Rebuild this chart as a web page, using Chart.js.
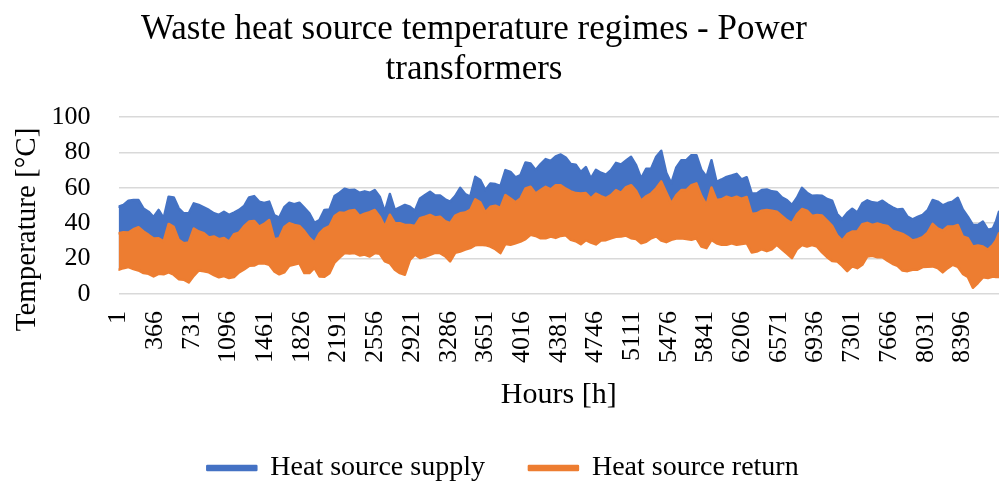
<!DOCTYPE html>
<html>
<head>
<meta charset="utf-8">
<script src="https://cdn.jsdelivr.net/npm/chart.js@4/dist/chart.umd.min.js"></script>
<style>
  html, body { margin: 0; padding: 0; background: #fff; }
  #wrap { width: 1006px; height: 488px; }
</style>
</head>
<body>
<div id="wrap"><canvas id="myChart"></canvas></div>
<script>
// hour of year for each reading
const hours = [
  1, 50, 100, 150, 200, 250, 300, 350, 400, 450,
  500, 550, 600, 650, 700, 750, 800, 850, 900, 950,
  1000, 1050, 1100, 1150, 1200, 1250, 1300, 1350, 1400, 1450,
  1500, 1550, 1600, 1650, 1700, 1750, 1800, 1850, 1900, 1950,
  2000, 2050, 2100, 2150, 2200, 2250, 2300, 2350, 2400, 2450,
  2500, 2550, 2600, 2650, 2700, 2750, 2800, 2850, 2900, 2950,
  3000, 3050, 3100, 3150, 3200, 3250, 3300, 3350, 3400, 3450,
  3500, 3550, 3600, 3650, 3700, 3750, 3800, 3850, 3900, 3950,
  4000, 4050, 4100, 4150, 4200, 4250, 4300, 4350, 4400, 4450,
  4500, 4550, 4600, 4650, 4700, 4750, 4800, 4850, 4900, 4950,
  5000, 5050, 5100, 5150, 5200, 5250, 5300, 5350, 5400, 5450,
  5500, 5550, 5600, 5650, 5700, 5750, 5800, 5850, 5900, 5950,
  6000, 6050, 6100, 6150, 6200, 6250, 6300, 6350, 6400, 6450,
  6500, 6550, 6600, 6650, 6700, 6750, 6800, 6850, 6900, 6950,
  7000, 7050, 7100, 7150, 7200, 7250, 7300, 7350, 7400, 7450,
  7500, 7550, 7600, 7650, 7700, 7750, 7800, 7850, 7900, 7950,
  8000, 8050, 8100, 8150, 8200, 8250, 8300, 8350, 8400, 8450,
  8500, 8550, 8600, 8650, 8700, 8730, 8760
];

// upper edge of the supply band [°C]
const supplyHigh = [
  49.3, 50.3, 52.7, 53.1, 53.1, 48.2, 46.5, 43.5, 47.5, 42.8,
  55.0, 54.6, 48.4, 45.6, 45.6, 51.2, 50.3, 49.0, 47.5, 45.6,
  44.7, 46.5, 44.7, 46.0, 47.5, 49.7, 54.6, 55.3, 52.2, 51.4,
  52.2, 44.5, 43.2, 49.0, 51.6, 50.8, 51.6, 48.6, 45.6, 40.2,
  41.8, 47.5, 47.8, 55.3, 57.2, 59.5, 58.7, 58.9, 57.2, 58.0,
  57.2, 58.7, 55.0, 46.5, 56.5, 47.5, 49.0, 50.3, 49.3, 47.1,
  54.0, 55.9, 57.8, 55.7, 55.7, 53.5, 52.2, 55.3, 60.0, 56.5,
  55.0, 66.2, 64.4, 58.7, 62.5, 62.1, 61.0, 70.0, 69.0, 65.9,
  67.2, 74.3, 73.7, 70.0, 73.4, 76.2, 75.2, 77.7, 78.8, 77.1,
  73.4, 73.0, 69.0, 71.7, 65.3, 70.2, 68.5, 67.4, 70.0, 74.1,
  73.2, 75.4, 77.5, 72.8, 65.3, 70.7, 70.9, 77.5, 80.9, 68.5,
  62.5, 71.5, 75.6, 75.6, 78.4, 78.4, 70.0, 66.2, 75.6, 63.4,
  64.7, 66.2, 67.0, 67.9, 64.7, 66.0, 56.8, 56.8, 58.7, 59.1,
  58.0, 57.6, 54.6, 53.1, 50.3, 54.4, 60.0, 57.2, 55.5, 55.7,
  55.5, 53.7, 52.7, 45.2, 42.2, 45.8, 48.2, 46.0, 51.2, 52.9,
  51.8, 51.4, 52.7, 50.7, 49.0, 47.7, 48.0, 43.7, 42.2, 43.5,
  44.7, 47.3, 53.1, 52.2, 50.1, 51.4, 52.2, 54.4, 47.8, 43.7,
  39.0, 39.0, 40.9, 36.2, 37.1, 40.9, 46.5
];

// upper edge of the return band [°C]
const returnHigh = [
  34.3, 34.9, 34.7, 36.6, 37.7, 35.3, 33.4, 31.3, 31.5, 29.8,
  39.6, 37.9, 30.6, 28.7, 29.1, 37.0, 35.3, 34.3, 31.9, 32.5,
  31.0, 31.7, 29.6, 33.8, 34.7, 38.3, 40.9, 41.3, 38.1, 39.6,
  41.8, 31.0, 31.5, 37.9, 40.0, 39.0, 38.5, 35.5, 31.7, 29.1,
  34.3, 37.0, 38.3, 44.1, 46.0, 45.8, 47.1, 47.5, 44.1, 45.4,
  46.2, 47.5, 43.7, 38.1, 44.8, 40.0, 40.0, 39.0, 39.0, 38.5,
  42.8, 43.7, 44.7, 43.3, 43.7, 41.1, 40.0, 44.3, 45.6, 46.0,
  47.5, 53.5, 51.8, 46.2, 49.3, 49.9, 48.6, 55.9, 54.0, 51.8,
  54.0, 59.7, 60.6, 56.8, 58.7, 60.6, 59.1, 61.5, 61.5, 59.5,
  58.0, 57.0, 56.8, 57.0, 54.0, 56.7, 55.3, 54.2, 55.9, 58.7,
  57.2, 60.4, 61.5, 58.3, 52.7, 55.2, 56.8, 59.7, 63.6, 57.4,
  51.2, 55.9, 58.7, 58.7, 61.5, 62.5, 55.3, 50.3, 60.2, 53.1,
  53.5, 55.0, 54.0, 55.0, 53.8, 54.8, 45.2, 45.6, 47.1, 47.5,
  47.1, 46.5, 44.1, 41.7, 40.0, 45.0, 48.0, 47.1, 44.1, 44.7,
  44.3, 41.5, 38.5, 33.2, 30.2, 33.8, 35.3, 35.3, 39.4, 40.2,
  39.0, 39.8, 39.0, 38.5, 35.8, 34.9, 34.0, 32.3, 30.2, 31.0,
  32.1, 34.7, 39.6, 37.1, 35.8, 38.1, 38.1, 39.0, 32.5, 31.5,
  26.8, 27.4, 26.8, 25.0, 27.8, 30.2, 34.3
];

// lower edge of the return band [°C]
const returnLow = [
  13.7, 14.6, 15.2, 14.1, 13.3, 11.8, 11.4, 9.9, 11.4, 11.1,
  12.2, 10.9, 8.4, 8.1, 6.5, 10.3, 13.3, 12.9, 12.2, 10.7,
  9.4, 10.1, 9.0, 9.6, 12.2, 13.9, 15.9, 16.1, 17.4, 17.3,
  16.5, 12.8, 11.1, 12.2, 15.9, 16.7, 17.4, 11.8, 11.8, 14.8,
  9.9, 9.8, 11.8, 17.8, 20.6, 23.1, 22.9, 23.1, 21.8, 22.3,
  21.2, 23.1, 22.7, 18.4, 17.4, 13.7, 11.8, 10.9, 19.3, 22.3,
  20.3, 21.0, 22.1, 23.3, 23.1, 21.4, 18.4, 23.3, 24.0, 25.1,
  25.9, 27.6, 27.8, 27.6, 26.8, 25.3, 23.1, 28.3, 27.8, 28.7,
  29.6, 31.0, 33.4, 32.8, 31.5, 31.5, 32.5, 31.7, 32.8, 33.2,
  30.6, 29.8, 28.1, 30.4, 29.1, 28.0, 30.2, 30.4, 31.5, 32.3,
  32.5, 33.0, 31.5, 31.0, 28.7, 29.5, 31.5, 32.6, 30.2, 29.3,
  30.6, 31.3, 31.5, 31.1, 30.6, 31.5, 26.8, 25.9, 30.6, 28.7,
  27.8, 27.8, 28.7, 27.8, 28.3, 28.7, 23.5, 24.0, 25.3, 24.2,
  25.3, 27.8, 25.3, 22.9, 20.3, 25.3, 27.6, 26.8, 27.6, 26.8,
  23.5, 20.8, 18.6, 18.4, 15.9, 12.9, 15.6, 14.6, 16.5, 21.2,
  21.6, 20.8, 20.8, 18.8, 17.1, 15.9, 13.3, 12.9, 13.7, 13.7,
  15.2, 15.4, 15.6, 14.6, 12.2, 14.6, 16.5, 15.4, 11.4, 9.6,
  3.5, 6.2, 9.4, 9.0, 9.9, 9.6, 9.6
];

const tickHours = [
  1, 366, 731, 1096, 1461, 1826, 2191, 2556, 2921, 3286, 3651, 4016,
  4381, 4746, 5111, 5476, 5841, 6206, 6571, 6936, 7301, 7666, 8031, 8396
];

const blue = "#4472C4";
const orange = "#ED7D31";
const serif = "'Liberation Serif', 'DejaVu Serif', serif";
const yTitle = "Temperature [°C]";

function points(values) {
  return values.map((v, i) => ({ x: hours[i], y: v }));
}

// Excel puts the title a bit left of centre
const shiftTitle = {
  id: "shiftTitle",
  afterLayout(chart) {
    if (chart.titleBlock) {
      chart.titleBlock.left -= 58;
    }
  },
};

// y axis title sits a little below the middle of the plot in the original
const drawYTitle = {
  id: "drawYTitle",
  afterDraw(chart) {
    const c = chart.ctx;
    const area = chart.chartArea;
    c.save();
    c.translate(27, (area.top + area.bottom) / 2 + 24);
    c.rotate(-Math.PI / 2);
    c.fillStyle = "#000";
    c.font = "29px " + serif;
    c.textAlign = "center";
    c.textBaseline = "middle";
    c.fillText(yTitle, 0, 0);
    c.restore();
  },
};

const ctx = document.getElementById("myChart").getContext("2d");
const myChart = new Chart(ctx, {
  type: "line",
  data: {
    datasets: [
      {
        label: "Heat source supply",
        data: points(supplyHigh),
        borderColor: blue,
        backgroundColor: blue,
        borderWidth: 2.5,
        fill: 2,
        order: 3,
      },
      {
        label: "Heat source return",
        data: points(returnHigh),
        borderColor: orange,
        backgroundColor: orange,
        borderWidth: 2.5,
        fill: 2,
        order: 2,
      },
      {
        label: "return low",
        data: points(returnLow),
        borderColor: orange,
        backgroundColor: orange,
        borderWidth: 2.5,
        fill: false,
        order: 1,
      },
    ],
  },
  options: {
    responsive: true,
    maintainAspectRatio: false,
    animation: false,
    layout: { padding: { left: 0, right: 0, top: 0, bottom: -4 } },
    elements: {
      point: { radius: 0 },
      line: { tension: 0, borderJoinStyle: "round", borderCapStyle: "round" },
    },
    scales: {
      x: {
        type: "linear",
        min: 1,
        max: 8760,
        afterBuildTicks: (axis) => {
          axis.ticks = tickHours.map((v) => ({ value: v }));
        },
        afterFit: (axis) => {
          axis.paddingLeft = 0;
          axis.paddingRight = 7;
        },
        ticks: {
          autoSkip: false,
          minRotation: 90,
          maxRotation: 90,
          padding: 17,
          color: "#000",
          font: { family: serif, size: 26 },
          callback: (v) => String(v),
        },
        grid: { display: false, drawTicks: false },
        border: { display: false },
        title: {
          display: true,
          text: "Hours [h]",
          color: "#000",
          font: { family: serif, size: 30, lineHeight: 1 },
          padding: { top: 0, bottom: 0 },
        },
      },
      y: {
        min: 0,
        max: 100,
        afterFit: (axis) => {
          axis.width = 118.5;
        },
        ticks: {
          stepSize: 20,
          padding: 28,
          color: "#000",
          font: { family: serif, size: 26 },
        },
        grid: { color: "#d9d9d9", lineWidth: 1.5, drawTicks: false },
        border: { display: false },
        title: { display: false },
      },
    },
    plugins: {
      title: {
        display: true,
        text: ["Waste heat source temperature regimes - Power", "transformers"],
        color: "#000",
        font: { family: serif, size: 35, weight: "normal", lineHeight: 1.143 },
        padding: { top: 10, bottom: 27 },
      },
      legend: {
        position: "bottom",
        labels: {
          boxWidth: 49,
          boxHeight: 4,
          padding: 44,
          color: "#000",
          font: { family: serif, size: 28 },
          filter: (item) => item.datasetIndex < 2,
          sort: (a, b) => a.datasetIndex - b.datasetIndex,
        },
      },
      tooltip: { enabled: false },
    },
  },
  plugins: [shiftTitle, drawYTitle],
});
</script>
</body>
</html>
